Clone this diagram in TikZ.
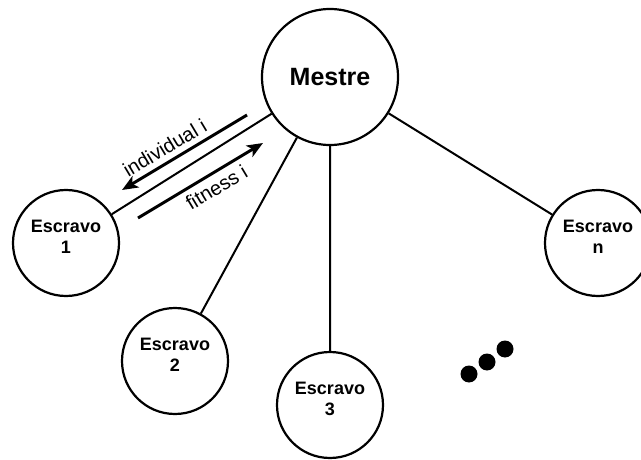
\documentclass[tikz,border=0pt]{standalone}
\usepackage{fontspec}
\setmainfont{Liberation Sans}
\usetikzlibrary{arrows.meta}

\begin{document}
\begin{tikzpicture}[x=1pt, y=-1pt, line width=2pt,%
	every node/.style={circle, draw, line width=2.2pt, align=center, inner sep=0pt,
		minimum size=106pt, font=\bfseries\fontsize{18}{21}\selectfont}]
	\useasboundingbox (0,0) rectangle (641,460);

	\node (mestre) [minimum size=136pt, font=\bfseries\fontsize{25}{28}\selectfont] at (330,77) {Mestre};
	\node (escravo1) at (66,243) {Escravo\\1\\[-8pt]};
	\node (escravo2) at (175,361) {Escravo\\2\\[-8pt]};
	\node (escravo3) at (330,405) {Escravo\\3\\[-8pt]};
	\node (escravon) at (598,243) {Escravo\\n\\[-8pt]};

	\draw (mestre) -- (escravo1)
		(mestre) -- (escravo2)
		(mestre) -- (escravo3)
		(mestre) -- (escravon);

	% mensagens entre mestre e escravo 1
	\coordinate (ind a) at (247,115);
	\coordinate (ind b) at (122,190);
	\coordinate (fit a) at (138,218);
	\coordinate (fit b) at (263,143);

	\path[line width=3pt, -{Stealth[length=16pt, width=13pt, inset=4pt]},
		every node/.style={font=\fontsize{20}{23}\selectfont}]
	(ind a) edge node [sloped, above=2pt, pos=0.6] {individual i} (ind b)
	(fit a) edge node [sloped, below=2pt, pos=0.57] {fitness i} (fit b);

	% reticencias
	\fill (469,374) circle (8.5)
		(487,362) circle (8.5)
		(505,349) circle (8.5);
\end{tikzpicture}
\end{document}
